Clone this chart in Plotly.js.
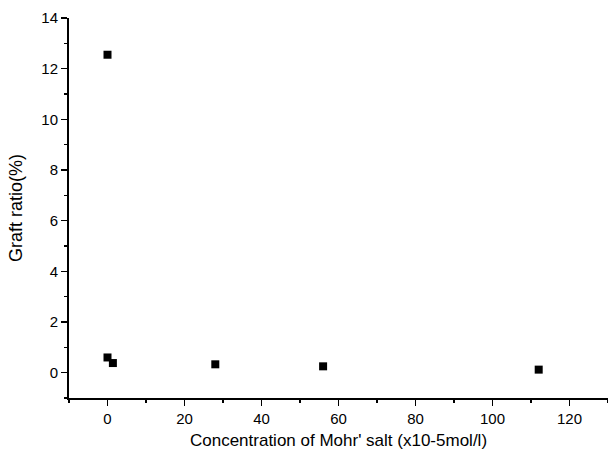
<!DOCTYPE html>
<html><head><meta charset="utf-8">
<script src="https://cdn.plot.ly/plotly-3.0.1.min.js"></script>
<style>html,body{margin:0;padding:0;background:#fff}#chart{width:608px;height:463px}</style>
</head><body><div id="chart"></div>
<script>
const concentration = [0, 0, 1.4, 28, 56, 112];
const graftRatio = [12.55, 0.6, 0.38, 0.33, 0.25, 0.12];
const xTitle = "Concentration of Mohr' salt (x10-5mol/l)";
const yTitle = "Graft ratio(%)";

const trace = {
  x: concentration, y: graftRatio, type: 'scatter', mode: 'markers',
  marker: {symbol: 'square', size: 8, color: '#000'}
};
const font = {family: 'Liberation Sans, Arial, sans-serif', color: '#000', size: 15};
const layout = {
  width: 608, height: 463,
  margin: {l: 69, r: 0, t: 18, b: 65},
  paper_bgcolor: '#fff', plot_bgcolor: '#fff',
  showlegend: false,
  font: font,
  xaxis: {
    range: [-10, 130], tick0: 0, dtick: 20,
    showline: true, linecolor: '#000', linewidth: 2,
    ticks: 'outside', ticklen: 6, tickwidth: 1.5, tickcolor: '#000',
    minor: {ticks: 'outside', dtick: 10, tick0: 0, ticklen: 3, tickcolor: '#000', tickwidth: 1.5},
    showgrid: false, zeroline: false,
    title: {text: xTitle, font: {size: 17}, standoff: 8}
  },
  yaxis: {
    range: [-1, 14], tick0: 0, dtick: 2,
    showline: true, linecolor: '#000', linewidth: 2,
    ticks: 'outside', ticklen: 6, tickwidth: 1.5, tickcolor: '#000',
    minor: {ticks: 'outside', dtick: 1, tick0: 0, ticklen: 3, tickcolor: '#000', tickwidth: 1.5},
    showgrid: false, zeroline: false,
    title: {text: yTitle, font: {size: 18}, standoff: 14}
  }
};
Plotly.newPlot('chart', [trace], layout, {displayModeBar: false, staticPlot: true});
</script></body></html>
